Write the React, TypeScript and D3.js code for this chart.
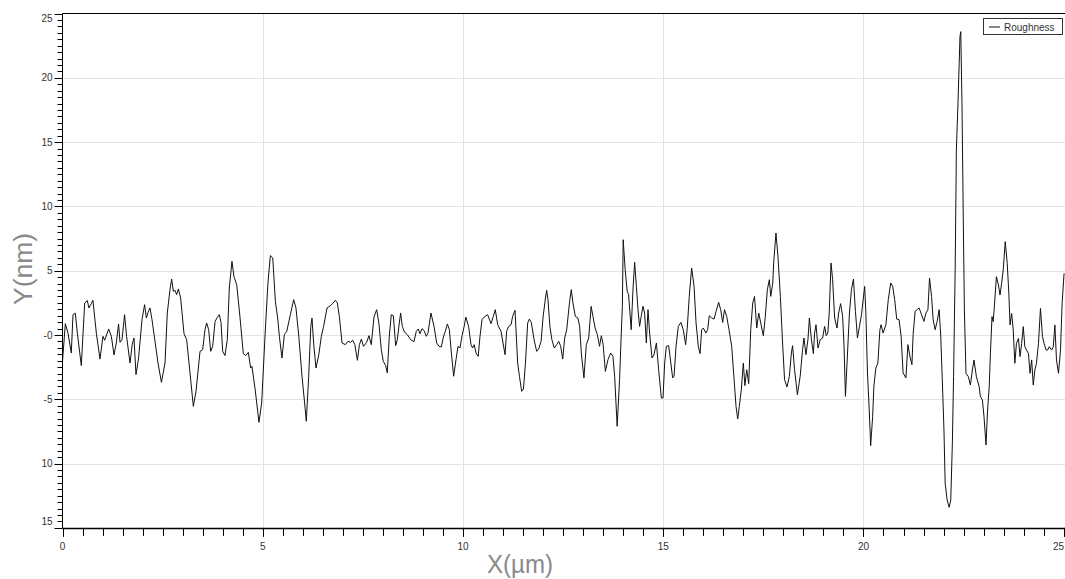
import React from "react";
import * as d3 from "d3";

// Profile positions (µm) and heights (nm)
const posX: number[] = [
  0, 0.071, 0.137, 0.22, 0.262, 0.32, 0.37, 0.47, 0.554, 0.62, 0.66, 0.72, 0.76, 0.845, 0.936, 1.01, 1.053, 1.153, 1.22, 1.286,
  1.344, 1.4, 1.436, 1.486, 1.536, 1.55, 1.6, 1.686, 1.74, 1.785, 1.835, 1.9, 1.985, 2.05, 2.094, 2.135, 2.185, 2.235, 2.385, 2.47,
  2.56, 2.617, 2.684, 2.726, 2.768, 2.81, 2.85, 2.893, 2.95, 3.034, 3.1, 3.184, 3.267, 3.334, 3.434, 3.5, 3.558, 3.6, 3.65, 3.7,
  3.75, 3.81, 3.866, 3.916, 3.958, 4.0, 4.057, 4.115, 4.165, 4.232, 4.28, 4.35, 4.43, 4.515, 4.58, 4.64, 4.698, 4.73, 4.806, 4.906,
  4.973, 5.065, 5.13, 5.19, 5.25, 5.315, 5.373, 5.415, 5.48, 5.54, 5.6, 5.69, 5.772, 5.83, 5.9, 5.98, 6.046, 6.088, 6.147, 6.2,
  6.23, 6.27, 6.33, 6.4, 6.463, 6.52, 6.605, 6.688, 6.746, 6.813, 6.863, 6.913, 6.98, 7.063, 7.13, 7.19, 7.246, 7.3, 7.364, 7.414,
  7.464, 7.515, 7.595, 7.653, 7.71, 7.778, 7.845, 7.9, 7.96, 8.01, 8.07, 8.11, 8.16, 8.21, 8.261, 8.32, 8.36, 8.41, 8.443, 8.485,
  8.543, 8.61, 8.693, 8.776, 8.835, 8.885, 8.926, 8.976, 9.026, 9.085, 9.126, 9.2, 9.277, 9.343, 9.4, 9.46, 9.51, 9.56, 9.61, 9.66,
  9.71, 9.767, 9.826, 9.876, 9.926, 9.976, 10.03, 10.07, 10.14, 10.2, 10.24, 10.28, 10.325, 10.38, 10.425, 10.475, 10.53, 10.616, 10.7, 10.757,
  10.807, 10.866, 10.95, 11.0, 11.05, 11.09, 11.14, 11.2, 11.24, 11.3, 11.365, 11.41, 11.465, 11.51, 11.56, 11.615, 11.657, 11.707, 11.775, 11.84,
  11.89, 11.95, 12.0, 12.06, 12.09, 12.122, 12.17, 12.22, 12.28, 12.34, 12.39, 12.44, 12.49, 12.54, 12.59, 12.66, 12.705, 12.746, 12.805, 12.87,
  12.913, 12.955, 13.02, 13.08, 13.14, 13.2, 13.245, 13.3, 13.355, 13.41, 13.455, 13.5, 13.555, 13.62, 13.687, 13.745, 13.787, 13.85, 13.91, 13.95,
  13.98, 14.0, 14.05, 14.1, 14.135, 14.17, 14.2, 14.245, 14.286, 14.33, 14.37, 14.41, 14.45, 14.495, 14.536, 14.578, 14.62, 14.66, 14.72, 14.77,
  14.83, 14.886, 14.953, 14.995, 15.036, 15.078, 15.136, 15.17, 15.235, 15.27, 15.32, 15.377, 15.443, 15.5, 15.56, 15.6, 15.65, 15.71, 15.77, 15.82,
  15.876, 15.92, 15.96, 16.0, 16.067, 16.11, 16.15, 16.21, 16.27, 16.32, 16.385, 16.435, 16.485, 16.53, 16.585, 16.643, 16.71, 16.77, 16.818, 16.86,
  16.9, 16.95, 17.0, 17.04, 17.085, 17.135, 17.185, 17.235, 17.28, 17.335, 17.385, 17.435, 17.5, 17.55, 17.6, 17.65, 17.685, 17.735, 17.758, 17.815,
  17.865, 17.925, 17.98, 18.03, 18.09, 18.15, 18.2, 18.23, 18.28, 18.35, 18.42, 18.48, 18.514, 18.564, 18.614, 18.65, 18.7, 18.75, 18.78, 18.815,
  18.865, 18.92, 18.98, 19.03, 19.07, 19.11, 19.145, 19.19, 19.23, 19.28, 19.34, 19.38, 19.43, 19.48, 19.515, 19.55, 19.59, 19.65, 19.7, 19.75,
  19.8, 19.85, 19.9, 19.95, 20.03, 20.06, 20.1, 20.14, 20.18, 20.23, 20.26, 20.31, 20.36, 20.41, 20.44, 20.49, 20.56, 20.62, 20.68, 20.73,
  20.78, 20.83, 20.89, 20.94, 20.99, 21.06, 21.11, 21.16, 21.21, 21.24, 21.29, 21.34, 21.39, 21.45, 21.51, 21.56, 21.61, 21.65, 21.7, 21.74,
  21.79, 21.84, 21.89, 21.93, 21.98, 22.01, 22.04, 22.09, 22.14, 22.18, 22.22, 22.25, 22.29, 22.32, 22.36, 22.39, 22.41, 22.43, 22.46, 22.49,
  22.52, 22.56, 22.62, 22.67, 22.72, 22.76, 22.82, 22.89, 22.92, 22.97, 23.01, 23.06, 23.1, 23.14, 23.17, 23.21, 23.24, 23.28, 23.32, 23.37,
  23.41, 23.45, 23.49, 23.54, 23.59, 23.63, 23.66, 23.7, 23.74, 23.78, 23.82, 23.87, 23.91, 23.95, 23.99, 24.03, 24.07, 24.12, 24.16, 24.2,
  24.24, 24.28, 24.32, 24.37, 24.42, 24.47, 24.51, 24.56, 24.6, 24.64, 24.7, 24.74, 24.78, 24.82, 24.87, 24.92, 24.96, 25.01,
];

const heightNm: number[] = [
  -2.05, 0.88, 0.15, -1.4, 1.58, 1.7, 0.15, -2.38, 2.49, 2.67, 2.1, 2.44, 2.7, 0.15, -1.87, -0.1, -0.41, 0.47, -0.1, -1.55,
  -0.62, 0.86, -0.57, -0.36, 1.14, 1.58, -0.1, -2.18, -0.75, -0.23, -3.08, -1.79, 1.19, 2.36, 1.32, 1.76, 2.1, 1.19, -2.18, -3.68,
  -2.18, 1.71, 3.53, 4.35, 3.4, 3.47, 3.14, 3.58, 2.88, 0.1, -0.36, -2.95, -5.55, -4.38, -1.27, -1.14, 0.41, 0.93, 0.41, -1.27,
  -0.88, 1.06, 1.37, 1.58, 0.98, -1.27, -1.6, -0.36, 3.65, 5.73, 4.56, 3.91, 1.45, -1.45, -1.6, -1.35, -2.57, -2.44, -4.12, -6.79,
  -5.29, 0.41, 4.04, 6.17, 5.99, 2.62, 1.32, -0.1, -1.79, 0.03, 0.29, 1.58, 2.75, 2.1, -0.1, -3.21, -5.29, -6.71, -3.21, 0.67,
  1.32, -0.62, -2.57, -1.53, -0.1, 0.67, 2.1, 2.28, 2.44, 2.7, 2.49, 1.45, -0.62, -0.75, -0.49, -0.57, -0.41, -0.75, -1.97, -0.75,
  -0.31, -0.88, -0.57, -0.05, -0.75, 1.4, 1.97, 0.93, -1.14, -2.05, -2.38, -2.95, -0.1, 1.58, 1.5, -0.83, -0.36, 0.93, 1.71, 0.67,
  0.21, 0.03, -0.36, -0.52, 0.29, 0.47, 0.1, 0.49, 0.36, -0.1, 0.15, 1.71, 0.67, -0.62, -0.88, -0.93, -0.16, 0.29, 0.86, 0.41,
  -1.4, -3.21, -1.92, -0.88, -1.01, -0.05, 0.67, 1.4, 0.67, -0.75, -1.01, -0.75, -1.4, -1.66, -0.1, 1.19, 1.4, 1.58, 0.88, 1.45,
  1.97, 0.8, 0.29, -0.62, -1.53, 0.29, 0.67, 0.8, 1.45, 1.92, -2.18, -3.21, -4.38, -4.2, -2.18, 0.93, 1.24, 0.98, -0.36, -1.27,
  -1.09, -0.49, 1.4, 2.88, 3.47, 2.75, 0.67, -0.36, -1.01, -0.75, -0.49, -0.88, -1.87, -0.23, 0.41, 2.54, 3.53, 2.49, 1.45, 1.32,
  0.67, -1.4, -3.34, -0.75, -0.23, 2.23, 1.45, 0.54, 0.03, -0.88, -0.05, -0.75, -2.83, -1.92, -1.4, -1.66, -3.21, -7.1, -3.47, -0.1,
  2.23, 7.41, 5.08, 3.4, 3.14, 1.71, 0.41, 3.53, 5.65, 3.78, 1.97, 0.67, 1.45, 2.23, 1.71, -0.62, 1.97, 0.15, -1.79, -1.53,
  -0.62, -2.7, -4.9, -4.9, -2.18, -0.88, -0.83, -1.66, -3.34, -3.21, -0.88, 0.67, 0.98, 0.41, -0.75, 0.54, 3.0, 5.21, 3.78, 0.93,
  -0.88, -1.45, 0.41, 0.54, 0.15, 0.41, 1.5, 1.32, 1.24, 1.84, 2.54, 1.97, 0.98, 1.97, 1.45, 0.41, -0.88, -3.47, -5.55, -6.53,
  -5.55, -4.25, -2.18, -3.94, -2.7, -3.78, 0.41, 2.49, 3.0, 0.54, 1.71, 0.93, -0.05, 1.45, 3.53, 4.3, 3.0, 4.04, 5.6, 7.93,
  6.12, 3.0, -0.62, -3.47, -4.04, -3.21, -1.4, -0.83, -2.7, -4.64, -3.21, -1.14, -0.23, -1.53, -0.36, 1.32, -0.36, -1.45, 0.15, 0.8,
  -1.01, -0.36, -0.23, 0.67, -0.05, 0.15, 1.71, 5.6, 4.3, 1.32, 0.54, 1.71, 2.44, 1.45, -0.88, -4.77, -2.18, 1.71, 3.53, 4.35,
  1.84, -0.23, 0.67, 1.58, 3.78, 1.71, -2.95, -5.55, -8.6, -6.32, -3.99, -2.57, -2.18, 0.41, 0.8, 0.15, 0.8, 2.75, 4.04, 3.78,
  2.75, 1.24, 1.19, -0.1, -2.95, -3.34, -0.75, -1.66, -2.31, 0.03, 1.84, 1.97, 2.1, 1.58, 1.06, 1.71, 1.97, 4.43, 3.0, 1.19,
  0.41, 1.06, 1.97, -0.1, -4.54, -7.39, -11.53, -12.83, -13.4, -12.83, -8.42, -3.24, 5.05, 14.39, 18.01, 21.12, 23.2, 23.59, 18.01, 9.72,
  1.94, -2.98, -3.24, -3.89, -2.72, -1.94, -3.24, -4.02, -4.8, -5.05, -6.35, -8.55, -5.83, -4.02, -1.43, 1.43, 1.04, 2.72, 4.54, 3.89,
  3.11, 4.02, 5.05, 7.26, 5.57, 3.24, 0.78, 1.68, 0.39, -2.2, -0.65, -0.26, -1.68, -0.65, 0.65, -0.91, -1.17, -1.43, -2.98, -1.94,
  -3.89, -2.72, -2.2, -0.65, 2.07, -0.13, -0.65, -1.17, -1.17, -0.91, -1.17, -0.91, 0.78, -1.94, -2.98, -1.17, 2.46, 4.8,
];

const xTickValues: number[] = [0, 5, 10, 15, 20, 25];
const xTickLabels: string[] = ["0", "5", "10", "15", "20", "25"];
const yTickValues: number[] = [-15, -10, -5, 0, 5, 10, 15, 20, 25];
const yTickLabels: string[] = ["15", "10", "-5", "-0", "5", "10", "15", "20", "25"];
const seriesName = "Roughness";
const xTitle = "X(µm)";
const yTitle = "Y(nm)";

const W = 1065;
const H = 579;
const left = 62.5;
const right = 1063.7;
const top = 13.5;
const bottom = 527.9;

export default function App() {
  const x = d3.scaleLinear().domain([0, 25]).range([left, right]);
  const y = d3.scaleLinear().domain([-15, 25]).range([bottom, top]);
  const pts: [number, number][] = posX.map((px, i) => [px, heightNm[i]]);
  const line = d3
    .line<[number, number]>()
    .x((d) => x(d[0]))
    .y((d) => y(d[1]));

  const xMinor = d3.range(0, 25.001, 0.5).filter((v) => Math.abs(v - Math.round(v / 5) * 5) > 1e-6);
  const yMinor = d3.range(-15, 25.001, 0.5).filter((v) => Math.abs(v - Math.round(v / 5) * 5) > 1e-6);
  const tickFont = "'Liberation Sans Narrow', 'Arial Narrow', 'Liberation Sans', Arial, sans-serif";

  return (
    <div style={{ position: "absolute", left: 0, top: 0, width: W, height: H, background: "#fff" }}>
      <svg width={W} height={H} style={{ display: "block" }}>
        <defs>
          <clipPath id="plotClip">
            <rect x={left} y={top} width={W - left} height={bottom - top} />
          </clipPath>
        </defs>
        <rect x={0} y={0} width={W} height={H} fill="#fff" />
        {/* grid */}
        {yTickValues
          .filter((v) => v > -15 && v < 25)
          .map((v) => (
            <line key={"gy" + v} x1={left} x2={W} y1={Math.round(y(v)) + 0.5} y2={Math.round(y(v)) + 0.5} stroke="#e3e3e3" strokeWidth={1} />
          ))}
        {xTickValues
          .filter((v) => v > 0 && v < 25)
          .map((v) => (
            <line key={"gx" + v} x1={Math.round(x(v)) + 0.5} x2={Math.round(x(v)) + 0.5} y1={top} y2={bottom} stroke="#e3e3e3" strokeWidth={1} />
          ))}
        {/* data line */}
        <path d={line(pts) || ""} fill="none" stroke="#111" strokeWidth={1} clipPath="url(#plotClip)" />
        {/* frame */}
        <line x1={left} x2={W} y1={top} y2={top} stroke="#000" strokeWidth={1} />
        <line x1={left} x2={left} y1={top} y2={bottom + 0.5} stroke="#000" strokeWidth={1} />
        <line x1={left} x2={W} y1={bottom + 0.5} y2={bottom + 0.5} stroke="#000" strokeWidth={1.5} />
        {/* y ticks */}
        {yMinor.map((v) => (
          <line key={"ymi" + v} x1={left - 5} x2={left} y1={Math.round(y(v)) + 0.5} y2={Math.round(y(v)) + 0.5} stroke="#000" strokeWidth={1} />
        ))}
        {yTickValues.map((v) => (
          <line key={"yma" + v} x1={left - 8} x2={left} y1={Math.round(y(v)) + 0.5} y2={Math.round(y(v)) + 0.5} stroke="#000" strokeWidth={1} />
        ))}
        {yTickValues.map((v, i) => {
          let ty = y(v);
          if (v === 25) ty = y(v) + 5;
          if (v === -15) ty = y(v) - 6;
          return (
            <text key={"yl" + v} x={left - 10} y={ty} dy="0.35em" textAnchor="end" fontSize={10} fill="#333" fontFamily={tickFont}>
              {yTickLabels[i]}
            </text>
          );
        })}
        {/* x ticks */}
        {xMinor.map((v) => (
          <line key={"xmi" + v} x1={Math.round(x(v)) + 0.5} x2={Math.round(x(v)) + 0.5} y1={bottom} y2={bottom + 8} stroke="#000" strokeWidth={1} />
        ))}
        {xTickValues.map((v) => (
          <line key={"xma" + v} x1={Math.round(x(v)) + 0.5} x2={Math.round(x(v)) + 0.5} y1={bottom} y2={bottom + 9} stroke="#000" strokeWidth={1} />
        ))}
        {xTickValues.map((v, i) => {
          const last = i === xTickValues.length - 1;
          return (
            <text
              key={"xl" + v}
              x={last ? W - 1 : x(v)}
              y={546}
              dy="0.35em"
              textAnchor={last ? "end" : "middle"}
              fontSize={10}
              fill="#333"
              fontFamily={tickFont}
            >
              {xTickLabels[i]}
            </text>
          );
        })}
        {/* axis titles */}
        <text x={520} y={573} textAnchor="middle" fontSize={26} fill="#8a8a8a" fontFamily={tickFont} textLength={66} lengthAdjust="spacingAndGlyphs">
          {xTitle}
        </text>
        <text
          transform={`translate(32, 269) rotate(-90)`}
          textAnchor="middle"
          fontSize={26}
          fill="#8a8a8a"
          fontFamily={tickFont}
          textLength={72}
          lengthAdjust="spacingAndGlyphs"
        >
          {yTitle}
        </text>
        {/* legend */}
        <rect x={983.5} y={18.5} width={79} height={16} fill="#fff" stroke="#333" strokeWidth={1} />
        <line x1={989} x2={1000} y1={27} y2={27} stroke="#111" strokeWidth={1} />
        <text x={1004} y={27} dy="0.35em" fontSize={10} fill="#333" fontFamily="'Liberation Sans', Arial, sans-serif">
          {seriesName}
        </text>
      </svg>
    </div>
  );
}
